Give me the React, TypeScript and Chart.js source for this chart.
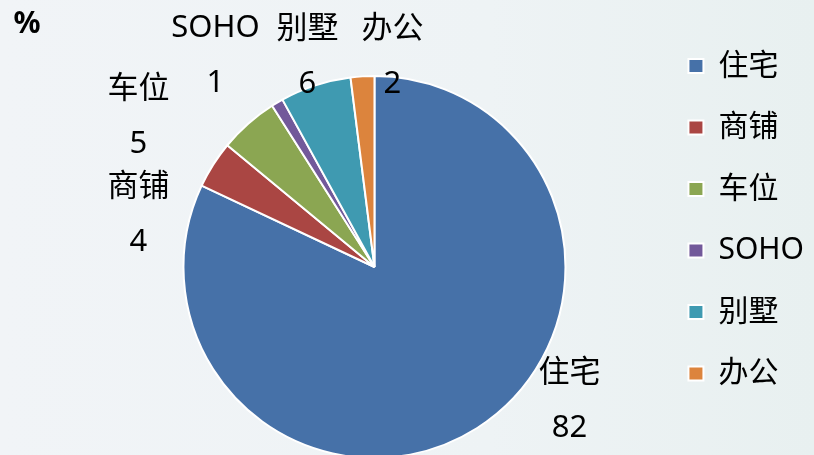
import React, { useEffect, useRef } from "react";
import { Chart, registerables } from "chart.js";

Chart.register(...registerables);

const categories = ["住宅", "商铺", "车位", "SOHO", "别墅", "办公"];
const shares = [82, 4, 5, 1, 6, 2];
const sliceColors = ["#4671A8", "#AA4643", "#8BA652", "#72599A", "#3F9AB1", "#DC843D"];
const unitLabel = "%";

const FONT = "'Noto Sans', 'Noto Sans CJK SC', sans-serif";

// label anchor offsets (name row) from the pie centre, value row drawn below
const labelOffsets: [number, number][] = [
  [195, 106],
  [-236, -80],
  [-236, -178],
  [-159, -239],
  [-67, -238],
  [18, -238],
];
const valueRowGap = 55;

const labelPlugin = {
  id: "sliceLabels",
  afterDatasetsDraw(chart: any) {
    const ctx = chart.ctx;
    const meta = chart.getDatasetMeta(0);
    const arc = meta.data[0];
    if (!arc) return;
    const cx = arc.x;
    const cy = arc.y;
    ctx.save();
    ctx.fillStyle = "#000";
    ctx.textAlign = "center";
    ctx.textBaseline = "middle";
    ctx.font = `31px ${FONT}`;
    categories.forEach((name, i) => {
      const [dx, dy] = labelOffsets[i];
      ctx.fillText(name, cx + dx, cy + dy);
      ctx.fillText(String(shares[i]), cx + dx, cy + dy + valueRowGap);
    });
    ctx.font = `bold 30px ${FONT}`;
    ctx.fillText(unitLabel, 27, 24);
    ctx.restore();
  },
};

export default function App() {
  const canvasRef = useRef<HTMLCanvasElement | null>(null);

  useEffect(() => {
    if (!canvasRef.current) return;
    const chart = new Chart(canvasRef.current, {
      type: "pie",
      data: {
        labels: categories,
        datasets: [
          {
            data: shares,
            backgroundColor: sliceColors,
            borderColor: "#ffffff",
            borderWidth: 2,
          },
        ],
      },
      options: {
        animation: false,
        responsive: true,
        maintainAspectRatio: false,
        radius: 191,
        layout: {
          padding: { left: 92, right: 0, top: 0, bottom: 0 },
        },
        plugins: {
          tooltip: { enabled: false },
          legend: {
            position: "right",
            align: "start",
            title: {
              display: true,
              text: "",
              padding: 0,
              font: { size: 13, lineHeight: 1.5 },
            },
            labels: {
              boxWidth: 15,
              boxHeight: 14,
              padding: 31.5,
              color: "#000",
              font: { size: 30, family: FONT },
            },
          },
        },
      } as any,
      plugins: [labelPlugin],
    });
    return () => chart.destroy();
  }, []);

  return (
    <div
      style={{
        position: "fixed",
        left: 0,
        top: 0,
        width: 814,
        height: 455,
        overflow: "hidden",
        background: "linear-gradient(90deg, #F1F4F7 0%, #EEF3F5 60%, #E8F0F0 100%)",
      }}
    >
      <div style={{ position: "relative", width: 814, height: 534 }}>
        <canvas ref={canvasRef} />
      </div>
    </div>
  );
}
